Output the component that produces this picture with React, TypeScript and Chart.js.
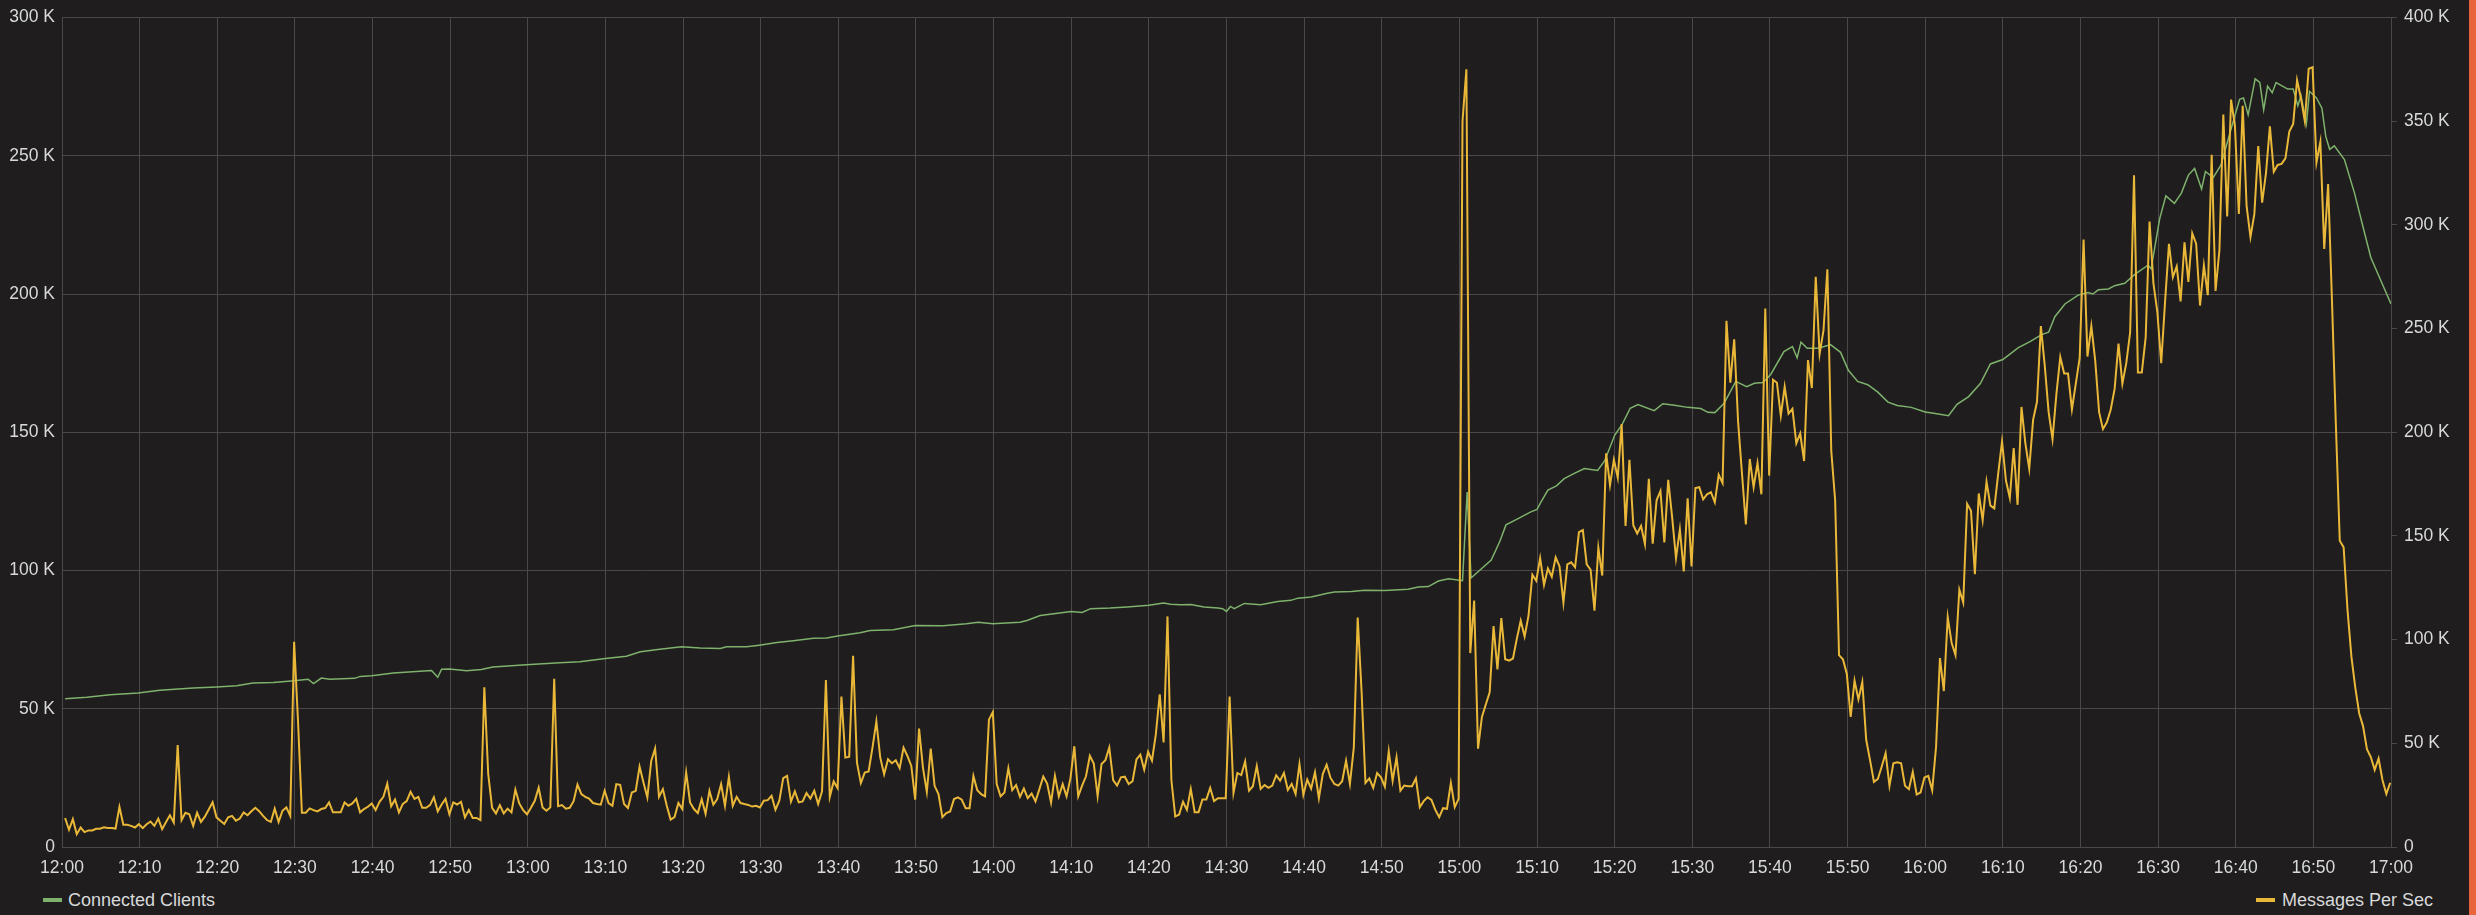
import React, { useEffect, useRef } from "react";
import { Chart, registerables } from "chart.js";

Chart.register(...registerables);

// Time axis (minutes after 12:00), tick labels every 10 minutes
const timeTickLabels = [
  "12:00", "12:10", "12:20", "12:30", "12:40", "12:50",
  "13:00", "13:10", "13:20", "13:30", "13:40", "13:50",
  "14:00", "14:10", "14:20", "14:30", "14:40", "14:50",
  "15:00", "15:10", "15:20", "15:30", "15:40", "15:50",
  "16:00", "16:10", "16:20", "16:30", "16:40", "16:50",
  "17:00",
];

// Messages Per Sec (thousands), one sample every 30 seconds starting 12:00:24
const MSG_START_MIN = 0.4;
const MSG_STEP_MIN = 0.5;
const messagesPerSecK = [
  14.0, 8.3, 13.4, 6.2, 9.4, 7.2, 8.0, 8.0, 8.8, 8.8,
  9.5, 9.2, 9.2, 8.9, 19.3, 10.7, 10.7, 10.2, 9.4, 11.0,
  9.1, 11.0, 12.3, 10.2, 13.7, 8.6, 12.1, 15.3, 11.8, 49.2,
  13.0, 16.5, 15.8, 10.2, 16.5, 12.1, 14.6, 18.1, 21.6, 14.3,
  12.7, 11.1, 14.3, 15.0, 12.7, 13.7, 16.7, 15.3, 17.2, 18.9,
  17.3, 15.0, 13.0, 12.1, 18.5, 12.1, 17.5, 19.1, 15.0, 99.0,
  60.8, 16.5, 16.5, 18.6, 17.8, 17.2, 18.3, 18.8, 21.5, 16.7,
  16.7, 16.7, 21.5, 19.9, 21.0, 23.2, 16.7, 18.3, 19.4, 21.0,
  17.8, 21.8, 24.2, 30.5, 19.6, 22.9, 16.7, 20.8, 22.1, 26.6,
  23.2, 24.2, 18.9, 18.9, 20.2, 24.0, 17.2, 20.5, 23.2, 15.8,
  21.5, 20.5, 21.8, 14.2, 17.8, 14.0, 14.0, 13.0, 77.0, 35.3,
  18.9, 16.2, 20.2, 16.2, 18.5, 16.7, 27.7, 21.0, 17.8, 15.8,
  18.9, 22.3, 28.6, 19.1, 17.5, 19.1, 81.1, 19.7, 20.2, 18.5,
  18.9, 22.1, 30.1, 25.5, 24.2, 23.3, 21.2, 20.7, 20.4, 27.1,
  21.2, 19.9, 30.3, 30.0, 20.7, 18.8, 26.3, 27.1, 38.8, 31.1,
  23.9, 41.5, 47.5, 24.2, 27.9, 19.9, 13.2, 14.4, 21.2, 18.3,
  35.9, 21.5, 18.3, 16.4, 23.0, 16.0, 27.1, 20.4, 23.1, 30.3,
  19.9, 33.8, 19.9, 24.2, 21.2, 20.7, 20.3, 19.5, 19.9, 19.1,
  22.3, 22.6, 24.7, 18.0, 22.3, 33.2, 34.3, 21.9, 26.8, 21.5,
  22.0, 26.0, 23.4, 27.1, 20.7, 26.8, 80.5, 24.2, 31.6, 28.4,
  72.6, 43.1, 43.5, 92.2, 40.7, 30.8, 35.9, 36.4, 47.9, 60.6,
  43.1, 35.1, 42.3, 40.4, 41.8, 38.0, 47.9, 43.9, 39.1, 22.8,
  57.1, 38.3, 26.6, 47.5, 29.5, 25.5, 14.4, 16.4, 17.1, 23.1,
  23.9, 22.8, 18.7, 18.7, 34.3, 27.4, 25.5, 24.4, 61.4, 65.1,
  30.3, 24.4, 26.3, 38.0, 27.4, 29.8, 24.2, 28.2, 23.6, 25.8,
  22.0, 27.9, 34.0, 30.6, 21.5, 34.3, 24.4, 30.3, 24.4, 33.2,
  48.6, 24.4, 29.6, 34.1, 44.0, 40.3, 24.5, 40.0, 41.9, 48.0,
  32.3, 29.6, 33.6, 33.9, 30.4, 31.7, 42.2, 44.5, 37.3, 45.9,
  41.6, 54.4, 73.6, 50.4, 111.2, 32.3, 14.7, 15.7, 21.8, 17.9,
  28.0, 16.8, 16.8, 22.9, 22.9, 28.5, 22.1, 23.5, 23.5, 23.5,
  72.6, 26.1, 35.7, 34.7, 41.3, 27.2, 29.3, 39.0, 28.0, 29.9,
  28.5, 29.6, 34.6, 32.0, 35.7, 27.5, 30.4, 25.6, 40.0, 25.1,
  32.5, 28.2, 36.0, 23.5, 35.2, 39.7, 33.3, 30.4, 29.6, 31.7,
  41.6, 30.4, 48.0, 110.7, 75.0, 30.9, 33.1, 28.5, 35.7, 33.6,
  29.1, 46.1, 32.0, 43.2, 27.2, 29.6, 29.3, 29.3, 33.1, 19.2,
  22.1, 24.0, 22.7, 17.9, 14.4, 18.7, 18.4, 30.9, 19.2, 23.2,
  350.0, 375.0, 93.5, 118.8, 47.4, 62.7, 68.7, 74.6, 106.5, 85.6,
  110.4, 90.5, 89.9, 90.9, 100.5, 109.1, 101.5, 111.4, 131.3, 128.4,
  139.3, 126.4, 134.3, 130.3, 139.7, 135.3, 117.8, 136.3, 137.3, 134.9,
  151.8, 152.8, 136.3, 133.7, 114.0, 144.3, 130.9, 189.8, 174.5, 186.7,
  178.1, 204.0, 154.8, 186.7, 155.2, 151.2, 154.8, 146.1, 177.5, 146.3,
  167.2, 171.7, 146.9, 177.1, 159.2, 139.3, 153.2, 132.9, 168.2, 135.3,
  173.1, 173.5, 167.6, 170.1, 171.1, 166.2, 179.5, 175.5, 253.7, 223.9,
  244.8, 205.0, 180.1, 155.6, 187.1, 173.5, 185.1, 170.1, 259.7, 179.1,
  225.3, 223.9, 208.0, 221.9, 209.0, 211.3, 194.6, 199.4, 186.1, 234.8,
  221.3, 275.0, 237.8, 249.1, 278.6, 191.0, 167.2, 92.5, 90.5, 83.6,
  62.7, 80.2, 71.2, 79.6, 51.7, 41.8, 31.4, 32.8, 38.8, 45.2,
  29.5, 40.4, 40.8, 40.4, 29.5, 27.9, 36.2, 25.3, 26.3, 33.5,
  34.3, 27.3, 48.4, 91.1, 75.2, 110.9, 98.5, 92.6, 124.1, 117.9,
  165.5, 162.1, 131.5, 170.5, 157.6, 176.2, 164.6, 163.3, 179.9, 195.6,
  176.7, 168.3, 192.4, 165.0, 212.2, 194.8, 182.4, 206.0, 214.7, 251.2,
  232.1, 209.7, 196.6, 218.4, 236.3, 228.3, 228.3, 211.0, 223.4, 235.8,
  292.9, 236.5, 251.2, 234.5, 209.7, 201.5, 204.8, 211.0, 220.9, 242.7,
  223.4, 233.3, 248.2, 323.9, 228.8, 228.8, 245.7, 301.6, 271.8, 258.1,
  233.3, 263.1, 290.9, 274.8, 280.0, 263.1, 291.6, 272.5, 295.9, 290.9,
  261.1, 280.5, 266.1, 333.8, 268.1, 287.9, 353.2, 304.0, 360.4, 347.5,
  305.3, 357.4, 309.0, 294.1, 305.3, 338.0, 310.7, 325.1, 347.5, 325.6,
  328.9, 329.4, 332.1, 345.0, 348.7, 369.8, 361.1, 350.0, 375.3, 376.0,
  330.1, 340.0, 288.4, 319.7, 263.1, 203.5, 147.7, 144.5, 114.2, 91.8,
  76.9, 64.5, 58.3, 47.2, 43.4, 37.2, 42.7, 32.3, 25.6, 31.0,
];

// Connected Clients (thousands) read at these minutes after 12:00
const clientMinutes = [
  0.4, 3.2, 6.2, 9.8, 12.6, 16.9, 19.9, 22.5, 24.6, 27.2,
  29.9, 31.7, 32.4, 33.4, 34.5, 37.7, 38.4, 39.9, 42.7, 47.6,
  48.4, 48.9, 49.9, 52.1, 54.0, 55.5, 59.8, 64.1, 66.7, 70.0,
  72.7, 74.5, 77.0, 79.8, 82.2, 84.8, 85.6, 88.2, 89.8, 92.1,
  94.2, 96.8, 98.5, 99.9, 102.8, 104.1, 107.1, 109.9, 113.5, 116.5,
  118.0, 119.9, 123.4, 124.3, 126.0, 128.5, 130.0, 131.4, 132.5, 135.0,
  137.2, 140.0, 141.9, 142.8, 144.1, 145.4, 147.1, 148.9, 149.5, 150.0,
  150.5, 151.0, 152.3, 154.4, 156.6, 158.3, 159.2, 160.9, 163.0, 163.9,
  166.1, 167.8, 170.4, 173.4, 174.7, 176.0, 177.3, 178.6, 180.4, 181.0,
  181.5, 184.1, 185.2, 186.0, 187.5, 189.2, 190.0, 190.5, 191.4, 192.5,
  193.5, 194.8, 196.1, 197.8, 198.7, 200.0, 201.0, 202.0, 203.0, 205.1,
  206.2, 207.7, 209.4, 211.1, 212.0, 212.9, 214.1, 215.6, 217.0, 218.0,
  219.1, 220.1, 221.8, 222.9, 223.5, 224.0, 224.8, 226.1, 227.0, 227.8,
  229.1, 230.1, 231.3, 232.6, 233.9, 235.2, 236.4, 238.2, 240.0, 241.3,
  243.0, 244.1, 245.6, 247.1, 248.4, 250.0, 252.0, 253.5, 255.0, 255.9,
  256.7, 258.0, 259.7, 261.0, 261.6, 262.3, 263.6, 264.4, 265.7, 267.0,
  268.7, 269.1, 270.2, 271.0, 272.1, 273.0, 273.9, 274.7, 275.6, 276.1,
  277.1, 278.1, 279.4, 280.5, 281.0, 281.6, 282.5, 283.1, 283.6, 284.1,
  284.7, 285.2, 286.7, 287.4, 288.0, 288.4, 289.1, 289.5, 290.4, 291.1,
  291.6, 292.1, 292.7, 294.0, 295.3, 296.3, 297.4, 298.7, 300.0,
];
const connectedClientsK = [
  53.6, 54.2, 55.1, 55.7, 56.7, 57.5, 57.9, 58.3, 59.3, 59.5,
  60.1, 60.7, 59.1, 61.1, 60.7, 61.0, 61.7, 61.9, 62.9, 63.8,
  61.4, 64.3, 64.4, 63.7, 64.2, 65.1, 65.9, 66.6, 67.0, 68.2,
  69.0, 70.6, 71.5, 72.4, 72.0, 71.8, 72.4, 72.4, 73.0, 74.0,
  74.6, 75.5, 75.6, 76.3, 77.5, 78.3, 78.6, 80.1, 80.0, 80.7,
  81.3, 80.7, 81.3, 81.9, 83.7, 84.6, 85.2, 84.8, 86.2, 86.4,
  86.8, 87.4, 88.2, 87.8, 87.6, 87.7, 86.8, 86.4, 86.2, 85.2,
  87.0, 86.2, 88.1, 87.6, 88.8, 89.2, 90.0, 90.4, 91.8, 92.2,
  92.4, 92.9, 92.8, 93.2, 94.0, 94.2, 96.2, 97.0, 96.3, 128.4,
  97.3, 103.8, 110.5, 116.5, 118.7, 121.2, 122.1, 124.7, 129.1, 130.6,
  133.2, 135.1, 136.9, 136.2, 139.6, 148.9, 153.0, 158.7, 160.0, 157.8,
  160.3, 159.8, 159.0, 158.6, 157.2, 157.1, 160.5, 168.4, 166.5, 167.7,
  168.0, 170.9, 179.2, 181.0, 176.9, 182.6, 180.4, 180.4, 181.0, 181.7,
  178.9, 172.4, 168.4, 167.2, 164.5, 160.9, 159.7, 159.0, 157.3, 156.8,
  156.0, 160.1, 162.9, 167.6, 174.7, 176.3, 180.6, 182.8, 185.3, 186.2,
  191.8, 196.4, 199.6, 200.5, 200.0, 201.5, 201.8, 203.0, 203.9, 207.1,
  210.4, 209.1, 227.2, 235.5, 232.8, 236.5, 243.0, 245.4, 238.0, 244.3,
  242.1, 246.7, 259.7, 270.4, 270.9, 264.8, 277.8, 276.5, 266.6, 275.2,
  272.8, 276.5, 274.1, 274.1, 268.1, 271.8, 261.6, 273.3, 270.9, 267.2,
  257.0, 252.3, 253.6, 248.6, 236.5, 225.3, 213.2, 204.8, 196.4,
];

const leftAxisMaxK = 300;
const rightAxisMaxK = 400;
const axisStepK = 50;

const seriesNames = ["Connected Clients", "Messages Per Sec"];
const seriesColors = ["#7eb26d", "#eab839"];

const BG = "#1f1d1d";
const GRID = "#4a4848";
const TEXT = "#d8d9da";
const FONT = "'Liberation Sans', Arial, Helvetica, sans-serif";
const W = 2476;
const H = 915;
const CANVAS_H = 885;

export default function App() {
  const ref = useRef<HTMLCanvasElement | null>(null);

  useEffect(() => {
    if (!ref.current) return;
    const msgData = messagesPerSecK.map((v, i) => ({
      x: MSG_START_MIN + i * MSG_STEP_MIN,
      y: v,
    }));
    const clientData = clientMinutes.map((m, i) => ({
      x: m,
      y: connectedClientsK[i],
    }));
    const kLabel = (v: any) => (Number(v) === 0 ? "0" : `${v} K`);
    const chart = new Chart(ref.current, {
      type: "line",
      data: {
        datasets: [
          {
            label: seriesNames[1],
            data: msgData,
            yAxisID: "yRight",
            borderColor: seriesColors[1],
            borderWidth: 2,
            pointRadius: 0,
            tension: 0,
            fill: false,
          },
          {
            label: seriesNames[0],
            data: clientData,
            yAxisID: "yLeft",
            borderColor: seriesColors[0],
            borderWidth: 1.5,
            pointRadius: 0,
            tension: 0,
            fill: false,
          },
        ],
      },
      options: {
        animation: false,
        responsive: false,
        devicePixelRatio: 1,
        layout: { padding: { top: 14, left: 0, right: 0, bottom: 0 } },
        plugins: {
          legend: { display: false },
          tooltip: { enabled: false },
        },
        events: [],
        scales: {
          x: {
            type: "linear",
            min: 0,
            max: (timeTickLabels.length - 1) * 10,
            border: { display: false },
            grid: { color: GRID, lineWidth: 1, drawTicks: false },
            ticks: {
              stepSize: 10,
              autoSkip: false,
              maxRotation: 0,
              padding: 11,
              color: TEXT,
              font: { family: FONT, size: 17.5 },
              callback: (v: any) => timeTickLabels[Math.round(Number(v) / 10)],
            },
            afterFit: (s: any) => {
              s.height = CANVAS_H - 847;
            },
          },
          yLeft: {
            type: "linear",
            position: "left",
            min: 0,
            max: leftAxisMaxK,
            border: { display: false },
            grid: { color: GRID, lineWidth: 1, drawTicks: false },
            ticks: {
              stepSize: axisStepK,
              padding: 7,
              color: TEXT,
              font: { family: FONT, size: 17.5 },
              callback: kLabel,
            },
            afterFit: (s: any) => {
              s.width = 62;
            },
          },
          yRight: {
            type: "linear",
            position: "right",
            min: 0,
            max: rightAxisMaxK,
            border: { display: false },
            grid: {
              color: GRID,
              lineWidth: 1,
              drawOnChartArea: false,
              drawTicks: true,
              tickLength: 6,
            },
            ticks: {
              stepSize: axisStepK,
              padding: 7,
              color: TEXT,
              font: { family: FONT, size: 17.5 },
              callback: kLabel,
            },
            afterFit: (s: any) => {
              s.width = W - 2391;
            },
          },
        },
      } as any,
    });
    return () => chart.destroy();
  }, []);

  const legendText: React.CSSProperties = {
    position: "absolute",
    top: 891,
    fontFamily: FONT,
    fontSize: 18,
    lineHeight: "18px",
    color: TEXT,
    whiteSpace: "nowrap",
  };
  const swatch: React.CSSProperties = {
    position: "absolute",
    top: 898,
    width: 19,
    height: 4,
  };

  return (
    <div
      style={{
        position: "fixed",
        left: 0,
        top: 0,
        width: W,
        height: H,
        background: BG,
        overflow: "hidden",
      }}
    >
      <canvas
        ref={ref}
        width={W}
        height={CANVAS_H}
        style={{ position: "absolute", left: 0, top: 0, width: W, height: CANVAS_H }}
      />
      <div style={{ ...swatch, left: 43, background: seriesColors[0] }} />
      <div style={{ ...legendText, left: 68 }}>{seriesNames[0]}</div>
      <div style={{ ...swatch, left: 2256, background: seriesColors[1] }} />
      <div style={{ ...legendText, left: 2282 }}>{seriesNames[1]}</div>
      <div
        style={{
          position: "absolute",
          left: 2469,
          top: 0,
          width: 7,
          height: H,
          background: "#e8643c",
        }}
      />
    </div>
  );
}
